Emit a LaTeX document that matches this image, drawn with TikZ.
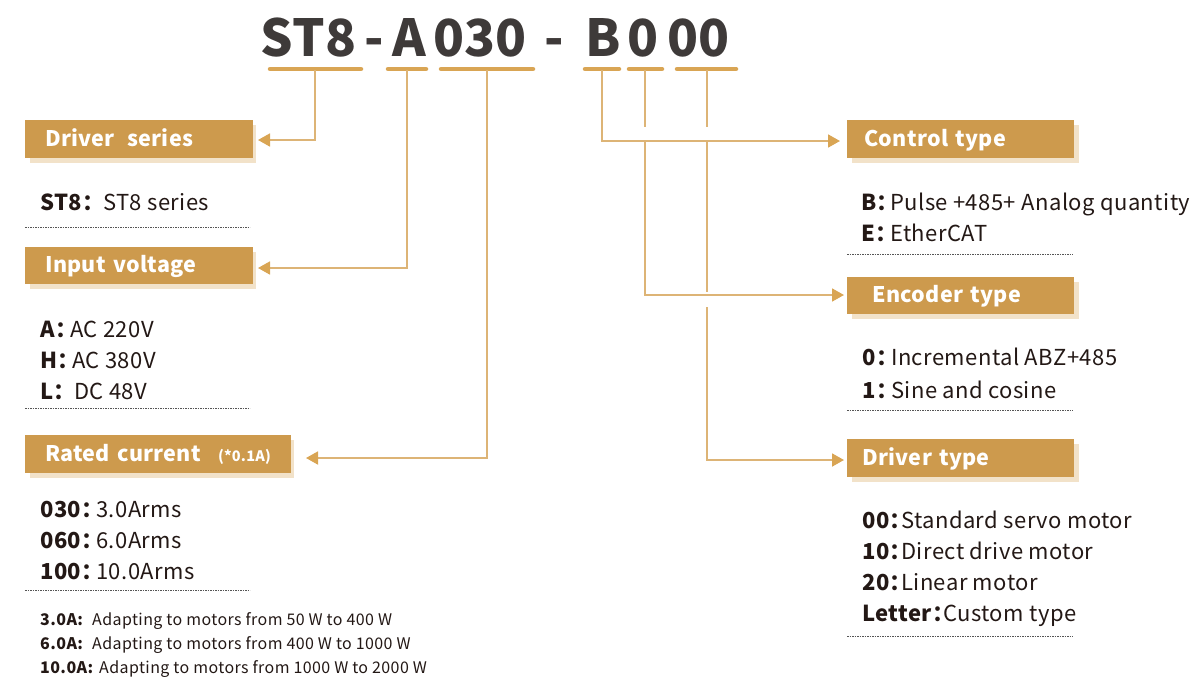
\documentclass[tikz,border=0pt]{standalone}
\usepackage{fontspec}
\setmainfont{Noto Sans CJK SC}
\usetikzlibrary{arrows.meta,calc}
\definecolor{boxc}{HTML}{CD9A4D}
\definecolor{shadc}{HTML}{F2E2C9}
\definecolor{linec}{HTML}{DDB476}
\definecolor{barc}{HTML}{D9A554}
\definecolor{titlec}{HTML}{3E3A39}
\definecolor{textc}{HTML}{231815}
\definecolor{dotc}{HTML}{555555}
\newcommand\lbl[2]{\makebox[#1][l]{\textbf{#2}}}
\tikzset{
  titletext/.style={font=\fontsize{51}{55}\bfseries\selectfont, text=titlec, inner sep=0pt, anchor=base},
  barline/.style={draw=barc, line width=4.5pt, line cap=round},
  conn/.style={draw=linec, line width=1.8pt},
  arr/.style={conn, -{Triangle[length=12pt,width=13pt,color=barc]}},
  hbox/.style={fill=boxc, text=white, font=\fontsize{21.5}{24}\bfseries\selectfont\addfontfeature{LetterSpace=1.5}, anchor=north west, minimum height=38pt, inner ysep=0pt, align=left, text height=17pt, text depth=3pt},
  shad/.style={fill=shadc, draw=none},
  item/.style={font=\fontsize{22}{26}\selectfont\addfontfeature{LetterSpace=2}, text=textc, inner sep=0pt, anchor=base west},
  small/.style={font=\fontsize{16}{18}\selectfont\addfontfeature{LetterSpace=2.5}, text=textc, inner sep=0pt, anchor=base west},
  dotline/.style={draw=dotc, line width=0.7pt, dash pattern=on 1.6pt off 0.9pt}
}
\begin{document}
\begin{tikzpicture}[x=1pt,y=-1pt]
\useasboundingbox (0,0) rectangle (1192,686);

% ---------- title ----------
\node[titletext] (tST) at (308.5,56) {ST8};
\node[titletext] (td1) at (374,56) {-};
\node[titletext] (tA) at (409,56) {A};
\node[titletext] (t030) at (480,56) {030};
\node[titletext] (td2) at (554.5,56) {-};
\node[titletext] (tB) at (603,56) {B};
\node[titletext] (t0) at (643.5,56) {0};
\node[titletext] (t00) at (698.5,56) {00};

% ---------- bars ----------
\draw[barline] (270,69) -- (361,69);
\draw[barline] (388,69) -- (426,69);
\draw[barline] (441,69) -- (533,69);
\draw[barline] (585,69) -- (619,69);
\draw[barline] (629,69) -- (662,69);
\draw[barline] (677,69) -- (736,69);
\coordinate (b1) at (315,70);
\coordinate (b2) at (407,70);
\coordinate (b3) at (487,70);
\coordinate (b4) at (602,70);
\coordinate (b5) at (645,70);
\coordinate (b6) at (707,70);

% ---------- boxes (left) ----------
\fill[shad] (30,125) rectangle (256,163);
\node[hbox, minimum width=226pt, text width=188pt, inner xsep=20pt] (ds) at (25,120) {Driver\hspace{5pt} series};
\fill[shad] (30,252) rectangle (256,289);
\node[hbox, minimum width=226pt, minimum height=37pt, text width=188pt, inner xsep=20pt] (iv) at (25,247) {Input voltage};
\fill[shad] (30,440) rectangle (294,478);
\node[hbox, minimum width=264pt, text width=226pt, inner xsep=20pt] (rc) at (25,435) {Rated current\hspace{17pt}{\fontsize{14.5}{15}\selectfont(*0.1A)}};

% ---------- boxes (right) ----------
\fill[shad] (852,125) rectangle (1079,163);
\node[hbox, minimum width=227pt, text width=193pt, inner xsep=17pt] (ct) at (847,120) {Control type};
\fill[shad] (852,282) rectangle (1079,319);
\node[hbox, minimum width=227pt, minimum height=37pt, text width=177pt, inner xsep=25pt] (et) at (847,277) {Encoder type};
\fill[shad] (852,444) rectangle (1079,482);
\node[hbox, minimum width=227pt, text width=197pt, inner xsep=15pt] (dt) at (847,439) {Driver type};

% ---------- arrow targets ----------
\coordinate (a1) at (258,140);
\coordinate (a2) at (258,268);
\coordinate (a3) at (306,458);
\coordinate (a4) at (840,141);
\coordinate (a5) at (844,295);
\coordinate (a6) at (844,460);
\coordinate (g5a) at (645,127);
\coordinate (g5b) at (645,141);
\coordinate (g6a) at (707,127);
\coordinate (g6b) at (707,141);
\coordinate (g6c) at (707,292);
\coordinate (g6d) at (707,307);

% ---------- connectors ----------
\draw[arr] (b1) |- (a1);
\draw[arr] (b2) |- (a2);
\draw[arr] (b3) |- (a3);
\draw[arr] (b4) |- (a4);
\draw[conn] (b5) -- (g5a);
\draw[arr] (g5b) |- (a5);
\draw[conn] (b6) -- (g6a);
\draw[conn] (g6b) -- (g6c);
\draw[arr] (g6d) |- (a6);

% ---------- left texts ----------
\node[item] (s1) at (40,210) {\lbl{63pt}{ST8：}ST8 series};
\draw[dotline] (25,227) -- (250,227);

\node[item] (v1) at (40,337) {\lbl{30pt}{A：}AC 220V};
\node[item] (v2) at (40,368) {\lbl{32pt}{H：}AC 380V};
\node[item] (v3) at (40,399) {\lbl{34pt}{L：}DC 48V};
\draw[dotline] (25,408) -- (250,408);

\node[item] (c1) at (40,517) {\lbl{56pt}{030：}3.0Arms};
\node[item] (c2) at (40,548) {\lbl{56pt}{060：}6.0Arms};
\node[item] (c3) at (40,579) {\lbl{56pt}{100：}10.0Arms};
\draw[dotline] (25,590) -- (250,590);

\node[small] (n1) at (40,625) {\lbl{52pt}{3.0A:}Adapting to motors from 50 W to 400 W};
\node[small] (n2) at (40,649) {\lbl{52pt}{6.0A:}Adapting to motors from 400 W to 1000 W};
\node[small] (n3) at (40,673) {\lbl{59pt}{10.0A:}Adapting to motors from 1000 W to 2000 W};

% ---------- right texts ----------
\node[item] (r1) at (861,210) {\lbl{29pt}{B：}Pulse +485+ Analog quantity};
\node[item] (r2) at (861,241) {\lbl{29pt}{E：}EtherCAT};
\draw[dotline] (847,254) -- (1073,254);

\node[item] (e1) at (862,365) {\lbl{29pt}{0：}Incremental ABZ+485};
\node[item] (e2) at (862,398) {\lbl{29pt}{1：}Sine and cosine};
\draw[dotline] (847,410) -- (1073,410);

\node[item] (d1) at (862,528) {\lbl{39pt}{00：}Standard servo motor};
\node[item] (d2) at (862,559) {\lbl{39pt}{10：}Direct drive motor};
\node[item] (d3) at (862,590) {\lbl{39pt}{20：}Linear motor};
\node[item] (d4) at (862,621) {\lbl{81pt}{Letter：}Custom type};
\draw[dotline] (847,636) -- (1073,636);
\end{tikzpicture}
\end{document}
